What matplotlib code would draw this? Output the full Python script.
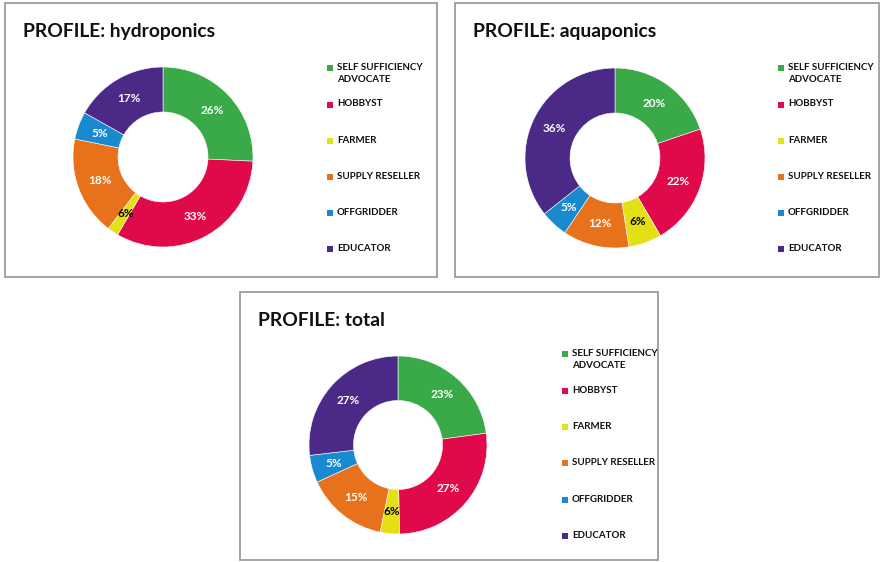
import matplotlib.pyplot as plt
from matplotlib.patches import Rectangle
import numpy as np

plt.rcParams['font.family'] = ['Lato', 'DejaVu Sans']

categories = ["SELF SUFFICIENCY\nADVOCATE", "HOBBYST", "FARMER",
              "SUPPLY RESELLER", "OFFGRIDDER", "EDUCATOR"]
colors = ["#3aaa48", "#e0094a", "#e4e015", "#e8711c", "#1a8ad0", "#4a2a86"]

# slice sizes as drawn, and the printed data labels
hydro_share = [26, 33, 2, 18, 5, 17]
hydro_labels = ["26%", "33%", "6%", "18%", "5%", "17%"]
aqua_share = [20, 22, 6, 12, 5, 36]
aqua_labels = ["20%", "22%", "6%", "12%", "5%", "36%"]
total_share = [23, 27, 3.5, 15, 5, 27]
total_labels = ["23%", "27%", "6%", "15%", "5%", "27%"]

W, H = 884, 562
fig = plt.figure(figsize=(W / 100, H / 100), dpi=100)


def fx(px):
    return px / W


def fy(py):
    return 1 - py / H


def panel(x0, y0, x1, y1, title, share, labels, cx, cy, r, legx, legy):
    fig.patches.append(Rectangle((fx(x0), fy(y1)), fx(x1 - x0), (y1 - y0) / H,
                                 transform=fig.transFigure, fill=False,
                                 edgecolor="#9c9c9c", linewidth=1.3))
    fig.text(fx(x0 + 18), fy(y0 + 28), title, fontsize=13.9, fontweight="bold",
             ha="left", va="center", color="#111111")
    ax = fig.add_axes([fx(cx - r), fy(cy + r), 2 * r / W, 2 * r / H])
    wedges, _ = ax.pie(share, colors=colors, startangle=90, counterclock=False,
                       radius=1.0, wedgeprops=dict(width=0.5, edgecolor="white",
                                                   linewidth=0.4))
    ax.set_xlim(-1, 1)
    ax.set_ylim(-1, 1)
    ax.set_aspect("auto")
    for i, (w, lab) in enumerate(zip(wedges, labels)):
        ang = np.deg2rad((w.theta1 + w.theta2) / 2)
        c = "black" if i == 2 else "white"
        ax.text(0.75 * np.cos(ang), 0.75 * np.sin(ang), lab, ha="center",
                va="center", fontsize=8.5, fontweight="bold", color=c)
    # legend
    for i, (cat, col) in enumerate(zip(categories, colors)):
        y = legy + (0 if i == 0 else 37 + 36.2 * (i - 1))
        fig.patches.append(Rectangle((fx(legx - 3), fy(y + 3)), 6 / W, 6 / H,
                                     transform=fig.transFigure, facecolor=col,
                                     edgecolor="none"))
        fig.text(fx(legx + 7), fy(y - 5), cat, fontsize=7, fontweight="bold",
                 ha="left", va="top", color="#111111", linespacing=1.45)


panel(5, 3, 437, 277, "PROFILE: hydroponics", hydro_share, hydro_labels,
      163, 157, 90, 330, 67.5)
panel(455, 3, 879, 277, "PROFILE: aquaponics", aqua_share, aqua_labels,
      615, 158, 90, 781, 67.5)
panel(240, 292, 658, 560, "PROFILE: total", total_share, total_labels,
      398, 445, 89, 565, 354)

fig.savefig("out.png", dpi=100)
